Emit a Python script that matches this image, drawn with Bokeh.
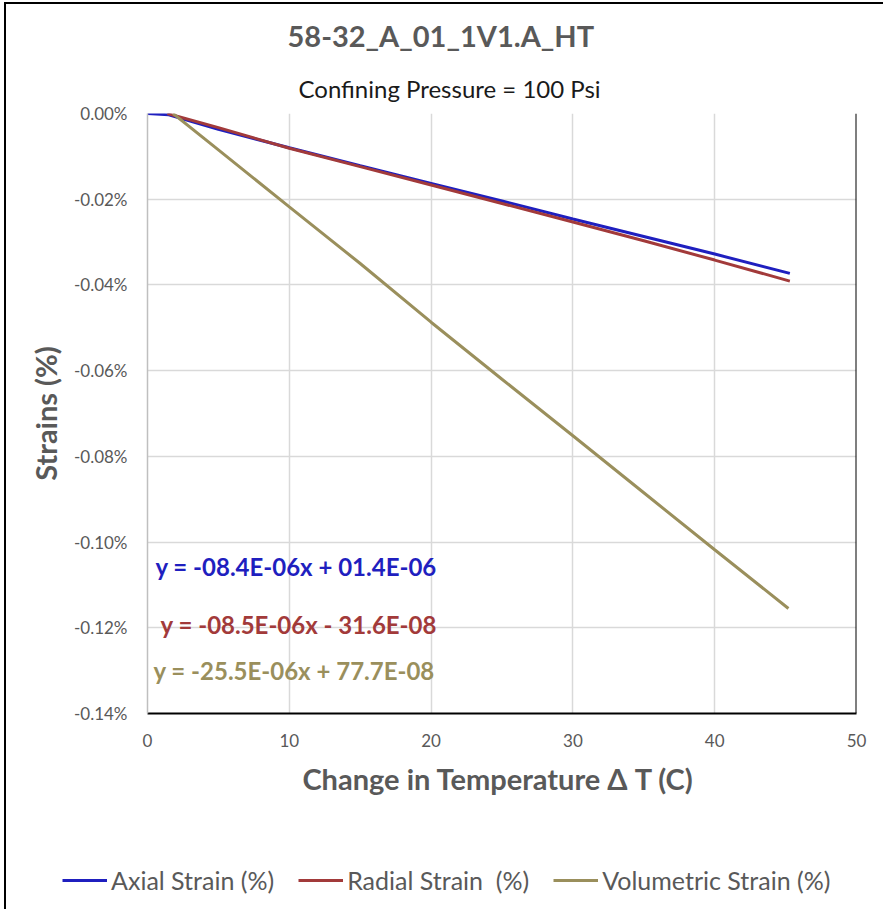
from bokeh.plotting import figure
from bokeh.layouts import column
from bokeh.models import (Range1d, FixedTicker, PrintfTickFormatter, Label, Legend,
                          LegendItem, Span, Title)
from bokeh.embed import file_html
from bokeh.resources import INLINE

# ---- data ----
axial_x = [0, 1.5, 5, 10, 15, 20, 25, 30, 35, 40, 45.3]
axial_y = [0, -0.0003, -0.0037, -0.0080, -0.0122, -0.0163, -0.0204, -0.0246, -0.0287, -0.0328, -0.0373]

radial_x = [1.4, 5, 10, 15, 20, 25, 30, 35, 40, 45.3]
radial_y = [0, -0.0033, -0.0081, -0.0124, -0.0167, -0.0210, -0.0253, -0.0297, -0.0342, -0.0391]

vol_x = [1.8, 5, 10, 15, 20, 25, 30, 35, 40, 45.2]
vol_y = [0, -0.0085, -0.0218, -0.0350, -0.0487, -0.0620, -0.0752, -0.0885, -0.1018, -0.1155]

x_ticks = [0, 10, 20, 30, 40, 50]
y_ticks = [0, -0.02, -0.04, -0.06, -0.08, -0.10, -0.12, -0.14]

series_names = ["Axial Strain (%)", "Radial Strain  (%)", "Volumetric Strain (%)"]
equations = ["y = -08.4E-06x + 01.4E-06", "y = -08.5E-06x - 31.6E-08", "y = -25.5E-06x + 77.7E-08"]

title_text = "58-32_A_01_1V1.A_HT"
subtitle_text = "Confining Pressure = 100 Psi"

BLUE = "#1F1FBF"
RED = "#A23A3A"
OLIVE = "#9A8F5C"
GREY = "#595959"
FONT = "Lato"
COLORS = [BLUE, RED, OLIVE]
SERIES = [(axial_x, axial_y), (radial_x, radial_y), (vol_x, vol_y)]

p = figure(frame_width=709, frame_height=600, output_backend="svg", toolbar_location=None,
           x_range=Range1d(0, 50), y_range=Range1d(-0.14, 0),
           min_border_left=141, min_border_right=27, min_border_top=109, min_border_bottom=104)
p.frame_align = False
p.outline_line_color = None
p.background_fill_color = "white"
p.border_fill_color = "white"

# grid
p.xgrid.ticker = FixedTicker(ticks=x_ticks)
p.ygrid.ticker = FixedTicker(ticks=y_ticks)
p.grid.grid_line_color = "#D9D9D9"
p.grid.grid_line_width = 1.5

# axes
p.xaxis.ticker = FixedTicker(ticks=x_ticks)
p.yaxis.ticker = FixedTicker(ticks=y_ticks)
p.yaxis.formatter = PrintfTickFormatter(format="%.2f%%")
for ax in (p.xaxis[0], p.yaxis[0]):
    ax.major_tick_line_color = None
    ax.minor_tick_line_color = None
    ax.major_label_text_font = FONT
    ax.major_label_text_font_size = "17px"
    ax.major_label_text_color = GREY
    ax.axis_label_text_font = FONT
    ax.axis_label_text_font_style = "bold"
    ax.axis_label_text_color = GREY
    ax.axis_label_text_font_size = "29px"
p.xaxis.axis_line_color = "black"
p.xaxis.axis_line_width = 2
p.yaxis.axis_line_color = "#BFBFBF"
p.yaxis.axis_line_width = 1.5
p.xaxis.major_label_standoff = 14
p.yaxis.major_label_standoff = 14
p.xaxis.axis_label = "Change in Temperature \u0394 T  (C)"
p.xaxis.axis_label_standoff = 11
p.yaxis.axis_label = "Strains (%)"
p.yaxis.axis_label_standoff = 8

# right-hand black border of the plot area
p.add_layout(Span(location=50, dimension="height", line_color="black", line_width=2))

# series
for (sx, sy), c in zip(SERIES, COLORS):
    p.line(sx, sy, line_color=c, line_width=3)

# equations
eq_pos_x = [0.56, 0.92, 0.42]
eq_pos_y = [-0.1057, -0.1192, -0.1300]
for txt, ex, ey, col in zip(equations, eq_pos_x, eq_pos_y, COLORS):
    p.add_layout(Label(x=ex, y=ey, text=txt, text_font=FONT, text_font_size="24px",
                       text_font_style="bold", text_color=col, text_baseline="middle",
                       text_align="left"))

# titles
p.add_layout(Title(text=subtitle_text, align="left", offset=151, text_font=FONT,
                   text_font_size="24px", text_font_style="normal", text_color="#1a1a1a",
                   standoff=22), "above")
p.add_layout(Title(text=title_text, align="left", offset=140, text_font=FONT,
                   text_font_size="29px", text_font_style="bold", text_color=GREY,
                   standoff=16), "above")

# legend strip below the chart (series drawn out of view, only the legend shows)
p2 = figure(width=877, height=92, output_backend="svg", toolbar_location=None,
            x_axis_location=None, y_axis_location=None, min_border=0,
            x_range=Range1d(100, 101), y_range=Range1d(100, 101))
p2.frame_align = False
p2.outline_line_color = None
p2.grid.visible = False
leg_renderers = [p2.line(sx, sy, line_color=c, line_width=3) for (sx, sy), c in zip(SERIES, COLORS)]
legend = Legend(items=[LegendItem(label=n, renderers=[r]) for n, r in zip(series_names, leg_renderers)],
                orientation="horizontal", location=(56, 14),
                label_text_font=FONT, label_text_font_size="25px", label_text_color=GREY,
                glyph_width=45, label_standoff=4, spacing=24, padding=0, margin=0,
                border_line_color=None, background_fill_alpha=0)
p2.add_layout(legend, "center")

layout = column(p, p2, spacing=0,
                styles={"border-left": "2px solid black", "border-top": "2px solid black",
                        "margin-left": "4px", "margin-top": "2px"})

open("out.html", "w").write(file_html(layout, INLINE))
